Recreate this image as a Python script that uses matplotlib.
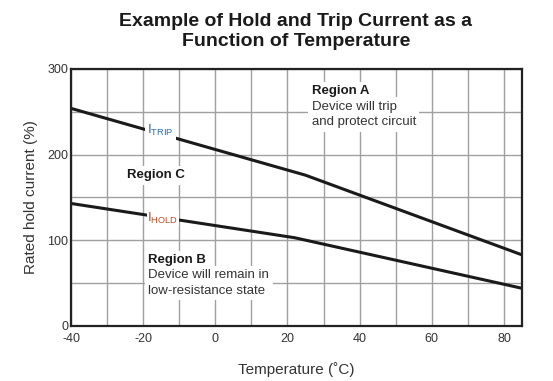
import matplotlib
matplotlib.use("Agg")
from matplotlib import pyplot as plt

plt.rcParams['font.family'] = ['Liberation Sans', 'DejaVu Sans']

# values
trip_temp = [-40, 25, 85]
trip_pct = [254, 176, 83]
hold_temp = [-40, 22, 85]
hold_pct = [143, 103, 44]

x_ticks = [-40, -20, 0, 20, 40, 60, 80]
y_ticks = [0, 100, 200, 300]

TXT = '#333333'
box = dict(facecolor='white', edgecolor='none', pad=2.5)

fig = plt.figure(figsize=(5.53, 3.81), dpi=100)
ax = fig.add_axes([0.1284, 0.1444, 0.8156, 0.6746])

ax.plot(trip_temp, trip_pct, color='#1a1a1a', lw=2.2, zorder=3, solid_capstyle='butt')
ax.plot(hold_temp, hold_pct, color='#1a1a1a', lw=2.2, zorder=3, solid_capstyle='butt')

ax.set_xlim(-40, 85)
ax.set_ylim(0, 300)
ax.set_xticks(range(-40, 90, 10))
ax.set_xticklabels([str(v) if v in x_ticks else '' for v in range(-40, 90, 10)])
ax.set_yticks(range(0, 301, 50))
ax.set_yticklabels([str(v) if v in y_ticks else '' for v in range(0, 301, 50)])
ax.grid(True, color='#a0a0a0', lw=1.0, zorder=0)
ax.tick_params(length=0, labelsize=9, colors=TXT)
ax.tick_params(axis='x', pad=5)
ax.tick_params(axis='y', pad=2)
for s in ax.spines.values():
    s.set_linewidth(1.6)
    s.set_color('#222222')
    s.set_zorder(4)

ax.set_xlabel('Temperature (˚C)', fontsize=11, color=TXT, labelpad=12)
ax.set_ylabel('Rated hold current (%)', fontsize=11, color=TXT, labelpad=7)

fig.text(0.535, 0.918, 'Example of Hold and Trip Current as a\nFunction of Temperature',
         ha='center', va='center', fontsize=14, fontweight='bold', color='#1a1a1a',
         linespacing=1.25)

ax.text(26.7, 281, 'Region A', fontsize=9.5, fontweight='bold', color='#1a1a1a',
        va='top', ha='left', bbox=box, zorder=5)
ax.text(26.7, 263, 'Device will trip\nand protect circuit', fontsize=9.5, color=TXT,
        va='top', ha='left', bbox=box, zorder=5, linespacing=1.4)
ax.text(-16.5, 176, 'Region C', fontsize=9.5, fontweight='bold', color='#1a1a1a',
        va='center', ha='center', bbox=box, zorder=5)
ax.text(-18.6, 84, 'Region B', fontsize=9.5, fontweight='bold', color='#1a1a1a',
        va='top', ha='left', bbox=box, zorder=5)
ax.text(-18.6, 66, 'Device will remain in\nlow-resistance state', fontsize=9.5, color=TXT,
        va='top', ha='left', bbox=box, zorder=5, linespacing=1.4)

ax.text(-18.8, 228, r'$\mathregular{I_{TRIP}}$', fontsize=9.5, color='#2a6cb0',
        va='center', ha='left', bbox=dict(facecolor='white', edgecolor='none', pad=1.5), zorder=5)
ax.text(-18.8, 126, r'$\mathregular{I_{HOLD}}$', fontsize=9.5, color='#b5532a',
        va='center', ha='left', bbox=dict(facecolor='white', edgecolor='none', pad=0.5), zorder=5)

fig.savefig('out.png', dpi=100)
